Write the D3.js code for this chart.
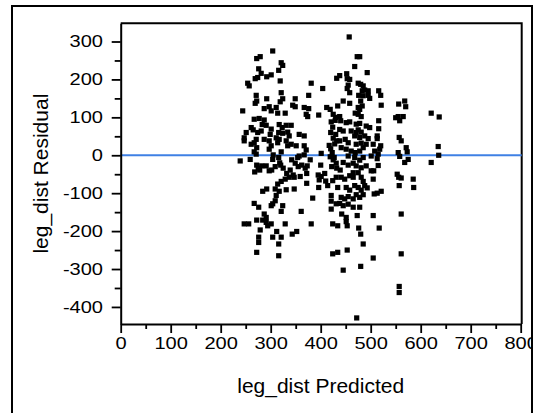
<!DOCTYPE html>
<html><head><meta charset="utf-8">
<script src="https://cdn.jsdelivr.net/npm/d3@7"></script>
<style>html,body{margin:0;padding:0;background:#fff;} svg{display:block;}</style>
</head><body>
<svg id="chart" width="538" height="413"></svg>
<script>
// [leg_dist Predicted, leg_dist Residual]
const observations = [
[304,275],[272,255],[279,260],[321,244],[324,237],[276,228],[281,216],[316,224],[269,202],[274,205],
[292,207],[301,212],[319,196],[254,190],[257,183],[381,190],[404,176],[432,203],[438,210],[271,158],
[292,149],[321,165],[324,149],[319,141],[349,149],[376,158],[269,137],[272,143],[244,117],[287,123],
[297,128],[301,117],[311,126],[314,111],[329,111],[344,132],[349,128],[367,126],[376,123],[371,108],
[374,102],[396,106],[412,126],[419,121],[425,108],[430,100],[434,130],[267,95],[277,97],[287,93],
[283,81],[291,79],[261,73],[265,67],[251,60],[247,46],[247,38],[274,60],[281,64],[301,69],
[299,55],[317,81],[323,73],[331,79],[341,79],[316,60],[324,58],[334,61],[337,51],[357,55],
[367,51],[261,29],[267,33],[271,42],[272,20],[287,42],[297,38],[301,25],[314,33],[311,46],
[317,42],[331,38],[334,25],[341,29],[351,25],[367,25],[371,14],[297,16],[267,9],[271,3],
[321,9],[354,-6],[357,-2],[401,5],[423,7],[427,-6],[239,-15],[259,-11],[304,-11],[316,-6],
[421,88],[424,74],[429,92],[420,60],[425,45],[428,30],[417,26],[420,17],[430,55],[432,38],
[272,-26],[278,-39],[282,-28],[291,-28],[275,-34],[305,1],[302,-39],[309,-30],[320,-26],[325,-34],
[332,-48],[339,-39],[345,-52],[342,-12],[349,-21],[355,-30],[362,-26],[369,-34],[373,-28],[367,1],
[379,-12],[372,-48],[359,-56],[400,-26],[395,-52],[397,-65],[268,-44],[297,-41],[318,-20],[419,-4],
[425,-12],[431,-21],[422,-30],[432,-34],[439,-39],[314,-76],[321,-69],[329,-63],[337,-58],[347,-58],
[401,-56],[414,-80],[424,-67],[431,-58],[434,-85],[284,-95],[292,-89],[309,-89],[317,-95],[331,-91],
[347,-89],[372,-74],[396,-85],[311,-106],[309,-120],[384,-113],[421,-106],[421,-121],[431,-128],[421,-142],
[267,-127],[276,-137],[301,-133],[304,-128],[324,-133],[321,-148],[361,-148],[287,-155],[291,-164],[272,-171],
[284,-171],[291,-177],[294,-186],[301,-181],[247,-181],[256,-181],[329,-181],[381,-181],[424,-181],[434,-186],
[279,-197],[312,-201],[304,-216],[321,-216],[343,-208],[352,-201],[276,-216],[276,-230],[316,-234],[272,-256],
[316,-265],[424,-260],[434,-256],[408,-48],[410,-68],[505,-63],[556,-58],[561,-60],[585,-63],[557,-80],
[586,-85],[441,-58],[448,-63],[458,-54],[465,-58],[481,-58],[485,-69],[451,-85],[458,-92],[468,-80],
[475,-85],[481,-92],[488,-80],[493,-86],[507,-102],[513,-100],[521,-95],[441,-111],[448,-115],[455,-109],
[465,-115],[471,-104],[478,-111],[485,-104],[438,-127],[445,-133],[455,-129],[465,-137],[478,-137],[442,-155],
[451,-164],[473,-159],[505,-159],[561,-155],[453,-186],[476,-192],[517,-192],[480,-208],[485,-234],[453,-250],
[505,-271],[561,-260],[480,-293],[445,-303],[557,-346],[557,-362],[472,-429],[451,-175],[457,312],[473,260],
[478,260],[468,234],[493,218],[452,215],[453,202],[458,200],[455,185],[453,176],[475,190],[480,187],
[485,183],[458,165],[483,170],[488,172],[495,170],[476,158],[485,157],[495,158],[498,150],[516,170],
[520,158],[521,132],[445,143],[458,137],[480,143],[483,130],[475,126],[478,121],[469,111],[475,108],
[438,102],[440,91],[481,102],[556,135],[568,143],[570,128],[555,102],[558,91],[565,102],[550,99],
[621,111],[637,101],[451,86],[458,88],[471,82],[478,84],[491,77],[498,73],[516,91],[516,70],
[438,68],[445,64],[461,64],[471,60],[475,67],[481,61],[468,51],[478,47],[488,51],[495,44],
[513,51],[513,44],[557,47],[561,38],[438,38],[449,42],[455,33],[471,29],[481,32],[491,29],
[485,20],[505,29],[520,25],[518,16],[441,20],[451,16],[461,11],[469,7],[478,11],[508,11],
[515,3],[555,7],[558,-3],[571,20],[573,9],[575,-11],[635,23],[636,0],[621,-19],[455,-2],
[468,-6],[478,-13],[485,-6],[501,-2],[513,-9],[568,-19],[515,-27],[445,-19],[455,-26],[465,-21],
[471,-28],[481,-33],[491,-28],[501,-41],[506,-41],[465,-46],[475,-46],[553,-50]
];
const xTicks = [0,100,200,300,400,500,600,700,800];
const xMinorTicks = [50,150,250,350,450,550,650,750];
const yTicks = [-400,-300,-200,-100,0,100,200,300];
const yMinorTicks = [-350,-250,-150,-50,50,150,250];
const referenceValue = [0];

const svg = d3.select("#chart");
const FONT = "'Liberation Sans', Arial, sans-serif";
const pL = 120.7, pR = 520.7, pT = 23.3, pB = 324;
const x = d3.scaleLinear().domain([0, 800]).range([pL, pR]);
const y = d3.scaleLinear().domain([-445, 348]).range([pB, pT]);
const SX = 1.18, TS = 17;

// plot frame (top & right)
svg.append("path").attr("d", `M${pL},${pT}H${pR+1}V${pB}`).attr("fill","none").attr("stroke","#000").attr("stroke-width",2);

// reference line
svg.selectAll("line.ref").data(referenceValue).join("line").attr("class","ref")
  .attr("x1", pL).attr("x2", pR+1).attr("y1", d=>y(d)).attr("y2", d=>y(d))
  .attr("stroke", "#3f80e4").attr("stroke-width", 2);

// points
svg.append("g").selectAll("rect").data(observations).join("rect")
  .attr("x", d => x(d[0]) - 2.6).attr("y", d => y(d[1]) - 2.6)
  .attr("width", 5.2).attr("height", 5.2).attr("fill", "#000");

// axes
const fmt = d => String(d);
const gx = svg.append("g").attr("transform", `translate(0,${pB})`);
gx.call(d3.axisBottom(x).tickValues(xTicks).tickSize(9).tickPadding(4).tickSizeOuter(0).tickFormat(fmt));
const gxm = svg.append("g").attr("transform", `translate(0,${pB})`);
gxm.call(d3.axisBottom(x).tickValues(xMinorTicks).tickSize(5).tickSizeOuter(0).tickFormat(""));
gxm.select(".domain").remove();

const gy = svg.append("g").attr("transform", `translate(${pL},0)`);
gy.call(d3.axisLeft(y).tickValues(yTicks).tickSize(9).tickPadding(8.7).tickSizeOuter(0).tickFormat(fmt));
const gym = svg.append("g").attr("transform", `translate(${pL},0)`);
gym.call(d3.axisLeft(y).tickValues(yMinorTicks).tickSize(6).tickSizeOuter(0).tickFormat(""));
gym.select(".domain").remove();

[gx, gxm, gy, gym].forEach(g => {
  g.selectAll("line").attr("stroke","#000").attr("stroke-width",1.8);
  g.select(".domain").attr("stroke","#000").attr("stroke-width",2);
});
gx.selectAll("text").attr("font-family", FONT).attr("font-size", TS).attr("fill","#000")
  .attr("transform", `scale(${SX},1)`);
gy.selectAll("text").attr("font-family", FONT).attr("font-size", TS).attr("fill","#000")
  .attr("x", -17.7 / SX).attr("transform", `scale(${SX},1)`);

// titles
svg.append("text").attr("x", (pL+pR)/2).attr("y", 393).attr("text-anchor","middle")
  .attr("font-family", FONT).attr("font-size", 21).attr("fill","#000").text("leg_dist Predicted");
svg.append("text").attr("transform", `translate(48,${(pT+pB)/2}) rotate(-90)`).attr("text-anchor","middle")
  .attr("font-family", FONT).attr("font-size", 21).attr("fill","#000").text("leg_dist Residual");

// outer frame (clips the right edge like the report border)
svg.append("rect").attr("x", 532).attr("y", 0).attr("width", 6).attr("height", 413).attr("fill", "#fff");
svg.append("path").attr("d", "M12,420V6H532V420").attr("fill","none").attr("stroke","#000").attr("stroke-width",2);
</script>
</body></html>
